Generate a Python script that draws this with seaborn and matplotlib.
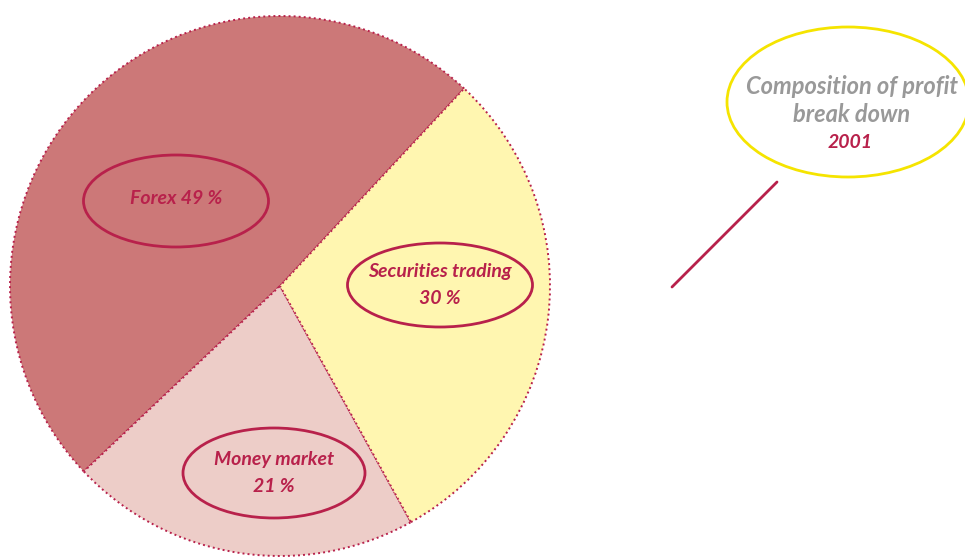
import matplotlib
matplotlib.use("Agg")
import matplotlib.pyplot as plt
from matplotlib.patches import Ellipse
import seaborn as sns

# Profit composition 2001 (percent)
categories = ["Forex", "Money market", "Securities trading"]
shares = [49, 21, 30]
title_lines = ["Composition of profit", "break down"]
year = "2001"

sns.set_theme(style="white")
plt.rcParams["font.family"] = ["Lato", "DejaVu Sans"]

crimson = "#B8214B"
colors = sns.color_palette(["#CC7878", "#EDCDC8", "#FFF6B0"])

W, H = 965, 557
fig = plt.figure(figsize=(W / 100, H / 100), dpi=100)
ax = fig.add_axes([0, 0, 1, 1])

# pie, in pixel coordinates (y measured from the bottom)
ax.pie(shares, colors=colors, startangle=47, counterclock=True,
       center=(280, H - 286), radius=270,
       wedgeprops=dict(edgecolor=crimson, linestyle=(0, (1, 1.6)), linewidth=1.4))

# label bubbles: (x, y, width, height) in pixels
bubbles = {
    "Forex": (176, 201, 185, 92),
    "Money market": (274, 473, 182, 90),
    "Securities trading": (440, 285, 185, 84),
}
font = dict(color=crimson, fontsize=14, style="italic", weight="bold",
            ha="center", va="center")
for cat, val in zip(categories, shares):
    x, y, w, h = bubbles[cat]
    ax.add_patch(Ellipse((x, H - y), w, h, fill=False, edgecolor=crimson, linewidth=2))
    if cat == "Forex":
        ax.text(x, H - y + 3, f"{cat} {val} %", **font)
    else:
        ax.text(x, H - y + 13, cat, **font)
        ax.text(x, H - y - 13, f"{val} %", **font)

# title bubble
ax.add_patch(Ellipse((848, H - 102), 242, 150, fill=False, edgecolor="#F5E400", linewidth=2))
ax.text(852, H - 86, title_lines[0], color="#999999", fontsize=17, style="italic",
        weight="bold", ha="center", va="center")
ax.text(852, H - 115, title_lines[1], color="#999999", fontsize=17, style="italic",
        weight="bold", ha="center", va="center")
ax.text(850, H - 142, year, color=crimson, fontsize=14, style="italic",
        weight="bold", ha="center", va="center")
ax.plot([777, 672], [H - 182, H - 287], color=crimson, linewidth=2)

ax.set_xlim(0, W)
ax.set_ylim(0, H)
ax.set_aspect("equal")
ax.axis("off")

fig.savefig("out.png", dpi=100)
